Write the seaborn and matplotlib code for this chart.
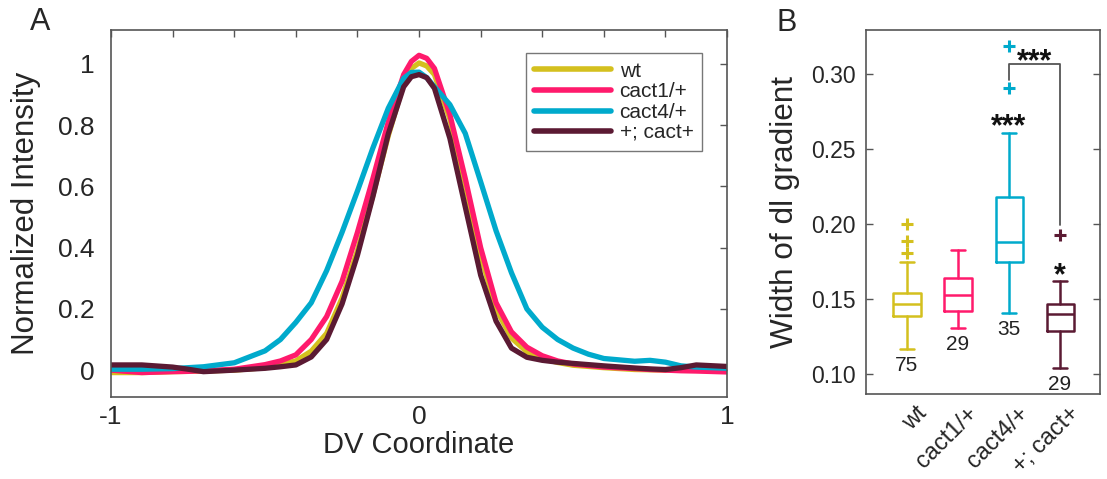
import numpy as np
import pandas as pd
import matplotlib
matplotlib.use("Agg")
import matplotlib.pyplot as plt
from matplotlib.lines import Line2D
from matplotlib.transforms import ScaledTranslation
import seaborn as sns

# ---------------- data ----------------
groups = ["wt", "cact1/+", "cact4/+", "+; cact+"]
colors = ["#D4C01E", "#FF1A6C", "#00AACC", "#5B1A33"]

dv = [-1.0, -0.9, -0.8, -0.75, -0.7, -0.6, -0.5, -0.45, -0.4, -0.35, -0.3, -0.25,
      -0.2, -0.15, -0.1, -0.05, -0.025, 0.0, 0.025, 0.05, 0.1, 0.15, 0.2, 0.25,
      0.3, 0.35, 0.4, 0.45, 0.5, 0.55, 0.6, 0.7, 0.75, 0.8, 0.85, 0.9, 1.0]

wt_int = [-0.008, -0.008, -0.005, -0.004, -0.003, 0.0, 0.008, 0.018, 0.03, 0.062, 0.12, 0.235,
          0.39, 0.57, 0.765, 0.935, 0.985, 1.003, 0.993, 0.965, 0.82, 0.606, 0.375, 0.20,
          0.105, 0.06, 0.038, 0.025, 0.016, 0.012, 0.008, 0.002, 0.001, 0.0, 0.0, 0.0, 0.0]

cact1_int = [0.0, -0.008, -0.005, -0.004, -0.002, 0.003, 0.018, 0.03, 0.05, 0.10, 0.175, 0.29,
             0.45, 0.625, 0.81, 0.965, 1.008, 1.028, 1.018, 0.985, 0.835, 0.626, 0.40, 0.22,
             0.125, 0.075, 0.047, 0.03, 0.02, 0.015, 0.01, 0.005, 0.002, 0.0, -0.002, -0.003, -0.006]

cact4_int = [0.003, 0.003, 0.005, 0.008, 0.011, 0.024, 0.063, 0.10, 0.156, 0.22, 0.325, 0.45,
             0.585, 0.725, 0.855, 0.953, 0.972, 0.973, 0.955, 0.925, 0.867, 0.773, 0.615, 0.455,
             0.318, 0.20, 0.14, 0.10, 0.072, 0.052, 0.038, 0.029, 0.032, 0.026, 0.014, 0.01, 0.006]

cact_plus_int = [0.017, 0.017, 0.01, 0.003, -0.005, 0.0, 0.006, 0.011, 0.017, 0.043, 0.10, 0.216,
                 0.375, 0.566, 0.771, 0.925, 0.958, 0.965, 0.955, 0.92, 0.757, 0.533, 0.31, 0.16,
                 0.072, 0.042, 0.032, 0.026, 0.022, 0.018, 0.014, 0.007, 0.004, 0.002, 0.008, 0.017, 0.012]

# panel B box statistics (width of dl gradient)
whisker_low = [0.117, 0.131, 0.141, 0.104]
quart1 = [0.139, 0.142, 0.175, 0.129]
median = [0.147, 0.153, 0.188, 0.140]
quart3 = [0.154, 0.164, 0.218, 0.147]
whisker_high = [0.175, 0.183, 0.261, 0.162]
outliers = [[0.181, 0.189, 0.200], [], [0.291, 0.319], [0.193]]
n_embryos = [75, 29, 35, 29]
signif = ["", "", "***", "*"]

# ---------------- figure ----------------
sns.set_theme(style="white")
plt.rcParams["font.family"] = ["Liberation Sans", "DejaVu Sans"]

fig = plt.figure(figsize=(11.07, 4.79), dpi=100)
axA = fig.add_axes([0.1003, 0.171, 0.5565, 0.766])
axB = fig.add_axes([0.782, 0.177, 0.212, 0.760])

# ---- Panel A ----
series = [wt_int, cact1_int, cact4_int, cact_plus_int]
df = pd.concat([pd.DataFrame({"DV": dv, "I": s, "Genotype": g}) for g, s in zip(groups, series)],
               ignore_index=True)
sns.lineplot(data=df, x="DV", y="I", hue="Genotype", hue_order=groups,
             palette=dict(zip(groups, colors)), estimator=None, sort=False,
             linewidth=3.8, ax=axA, legend=False)
axA.set_xlim(-1, 1)
axA.set_ylim(-0.088, 1.11)
xt = np.round(np.arange(-1, 1.01, 0.2), 1)
axA.set_xticks(xt)
axA.set_xticklabels(["-1" if v == -1 else ("0" if v == 0 else ("1" if v == 1 else "")) for v in xt])
axA.set_yticks([0, 0.2, 0.4, 0.6, 0.8, 1.0])
axA.set_yticklabels(["0", "0.2", "0.4", "0.6", "0.8", "1"])
axA.tick_params(direction="in", top=True, right=True, length=5, width=1,
                color="#555555", labelsize=19)
axA.tick_params(axis="y", pad=12)
axA.tick_params(axis="x", pad=6)
for sp in axA.spines.values():
    sp.set_color("#555555")
    sp.set_linewidth(1.2)
axA.set_xlabel("DV Coordinate", fontsize=21, labelpad=1)
axA.set_ylabel("Normalized Intensity", fontsize=22.5, labelpad=12)

handles = [Line2D([], [], color=c, lw=4) for c in colors]
leg = axA.legend(handles, groups, loc="upper right", bbox_to_anchor=(0.959, 0.937),
                 fontsize=15, handlelength=3.7, labelspacing=0.08, handletextpad=0.4,
                 borderpad=0.4, borderaxespad=0.0, fancybox=False, frameon=True)
leg.get_frame().set_edgecolor("#555555")
leg.get_frame().set_linewidth(1.0)

# ---- Panel B ----
stats = []
for i, g in enumerate(groups):
    stats.append(dict(label=g, whislo=whisker_low[i], q1=quart1[i], med=median[i],
                      q3=quart3[i], whishi=whisker_high[i], fliers=outliers[i]))
positions = [1, 2, 3, 4]
bp = axB.bxp(stats, positions=positions, widths=0.53, capwidths=0.27, showfliers=True,
             patch_artist=False)
for i, c in enumerate(colors):
    bp["boxes"][i].set(color=c, linewidth=1.8)
    bp["medians"][i].set(color=c, linewidth=1.8)
    for w in bp["whiskers"][2 * i:2 * i + 2]:
        w.set(color=c, linewidth=1.8, linestyle="-")
    for cp in bp["caps"][2 * i:2 * i + 2]:
        cp.set(color=c, linewidth=1.8)
    bp["fliers"][i].set(marker="+", markeredgecolor=c, markersize=9, markeredgewidth=2.2,
                        linestyle="none")

axB.set_xlim(0.19, 4.79)
axB.set_ylim(0.0867, 0.3295)
axB.set_yticks([0.10, 0.15, 0.20, 0.25, 0.30])
axB.set_yticklabels(["0.10", "0.15", "0.20", "0.25", "0.30"])
axB.set_xticks(positions)
axB.set_xticklabels(groups, rotation=45, ha="right", rotation_mode="anchor")
axB.tick_params(axis="y", direction="in", left=True, right=True, length=5, width=1,
                color="#555555", labelsize=16.5, pad=7)
axB.tick_params(axis="x", length=0, labelsize=17, pad=6)
shift = ScaledTranslation(6 / 72, 0, fig.dpi_scale_trans)
for lab in axB.get_xticklabels():
    lab.set_transform(lab.get_transform() + shift)
for sp in axB.spines.values():
    sp.set_color("#555555")
    sp.set_linewidth(1.2)
axB.set_ylabel("Width of dl gradient", fontsize=22.7, labelpad=8)

for i, p in enumerate(positions):
    axB.text(p, whisker_low[i] - 0.0045, str(n_embryos[i]), ha="center", va="top",
             fontsize=15, color="#222222")
    if signif[i]:
        axB.text(p, whisker_high[i] - 0.0018, signif[i], ha="center", va="baseline",
                 fontsize=22, color="#111111", fontweight="bold")

axB.plot([3, 3, 4, 4], [0.2965, 0.307, 0.307, 0.1995], color="#555555", lw=1.3)
axB.text(3.5, 0.3028, "***", ha="center", va="baseline", fontsize=22, color="#111111",
         fontweight="bold")

fig.text(0.036, 0.955, "A", fontsize=22, va="center", ha="center")
fig.text(0.711, 0.952, "B", fontsize=22, va="center", ha="center")

fig.savefig("out.png", dpi=100)
